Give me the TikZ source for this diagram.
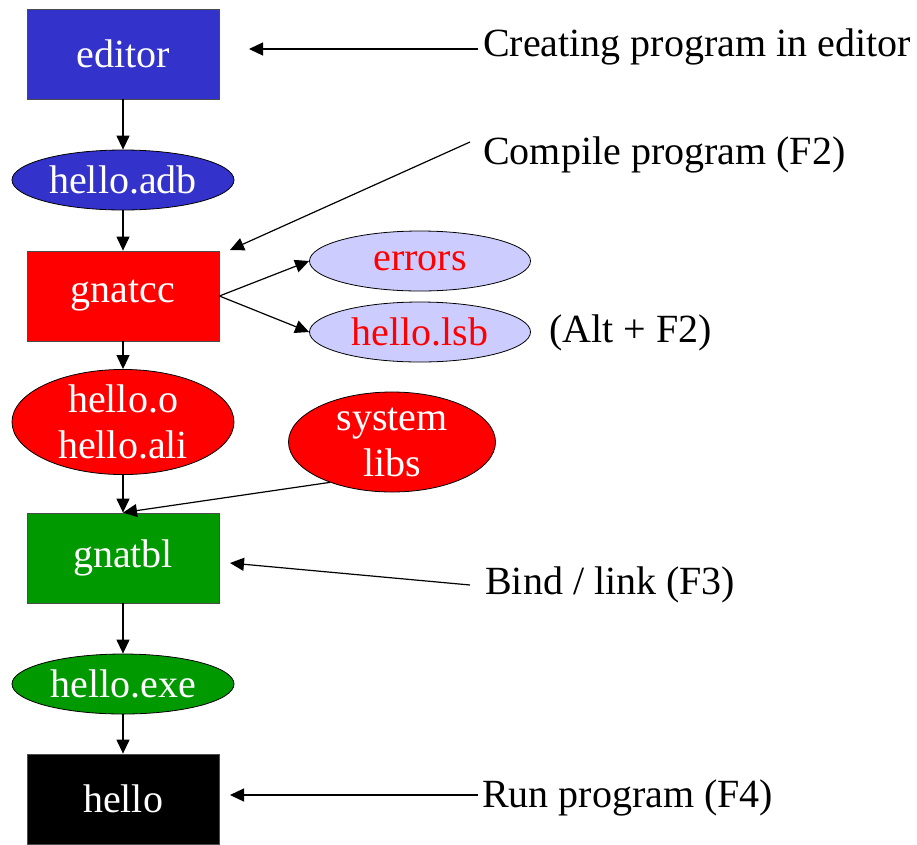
\documentclass[tikz,border=0pt]{standalone}
\usepackage{fontspec}
\setmainfont{Liberation Serif}
\usetikzlibrary{shapes.geometric,arrows.meta}
\definecolor{edblue}{HTML}{3333CC}
\definecolor{ccred}{HTML}{FF0000}
\definecolor{blgreen}{HTML}{009900}
\definecolor{lsblue}{HTML}{CCCCFF}
\tikzset{
  stage/.style={rectangle,draw=black!70,line width=0.8pt,minimum width=192pt,minimum height=90pt,inner sep=0pt,text=white},
  file/.style={ellipse,draw=black,line width=0.8pt,minimum width=222pt,minimum height=60pt,inner sep=0pt,text=white,align=center},
  note/.style={anchor=west,inner sep=0pt},
  flow/.style={-{Triangle[length=14pt,width=13pt]},line width=1.2pt}
}
\begin{document}
\begin{tikzpicture}[x=1pt,y=-1pt,font=\fontsize{40}{46}\selectfont]
\useasboundingbox (0,0) rectangle (917,844);
% main chain
\node[stage,fill=edblue] (editor) at (123,54) {editor};
\node[file,fill=edblue] (adb) at (123,180) {hello.adb};
\node[stage,fill=ccred] (gnatcc) at (123,296) {gnatcc};
\node[file,fill=ccred,minimum height=100pt] (obj) at (123,422) {hello.o\\hello.ali};
\node[stage,fill=blgreen] (gnatbl) at (123,558) {gnatbl};
\node[file,fill=blgreen] (exe) at (123,684) {hello.exe};
\node[stage,fill=black] (hello) at (123,799) {hello};
% side files
\node[file,fill=lsblue,text=ccred,minimum width=221pt] (errors) at (420,261) {errors};
\node[file,fill=lsblue,text=ccred,minimum width=221pt] (lsb) at (420,332) {hello.lsb};
\node[file,fill=ccred,minimum width=207pt,minimum height=100pt] (syslibs) at (392,442) {system\\libs};
% notes
\node[note] (create) at (483,47) {Creating program in editor};
\node[note] (compile) at (483,155) {Compile program (F2)};
\node[note] (alt) at (549,333) {(Alt + F2)};
\node[note] (bind) at (485,585) {Bind / link (F3)};
\node[note] (run) at (482,798) {Run program (F4)};
\coordinate (c1) at (249,49);
\coordinate (c2) at (230,250);
\coordinate (c3) at (230,563);
\coordinate (c4) at (230,795);
\draw[flow] (editor) -- (adb);
\draw[flow] (adb) -- (gnatcc);
\draw[flow] (gnatcc) -- (obj);
\draw[flow] (obj) -- (gnatbl);
\draw[flow] (gnatbl) -- (exe);
\draw[flow] (exe) -- (hello);
\draw[flow] (gnatcc.east) -- (errors.west);
\draw[flow] (gnatcc.east) -- (lsb.west);
\draw[flow] (syslibs.213) -- (gnatbl.north);
\draw[flow] ([xshift=-5pt]create.west |- c1) -- (c1);
\draw[flow] ([xshift=-13pt,yshift=13pt]compile.west) -- (c2);
\draw[flow] ([xshift=-15pt]bind.west) -- (c3);
\draw[flow] ([xshift=-4pt]run.west |- c4) -- (c4);
\end{tikzpicture}
\end{document}
